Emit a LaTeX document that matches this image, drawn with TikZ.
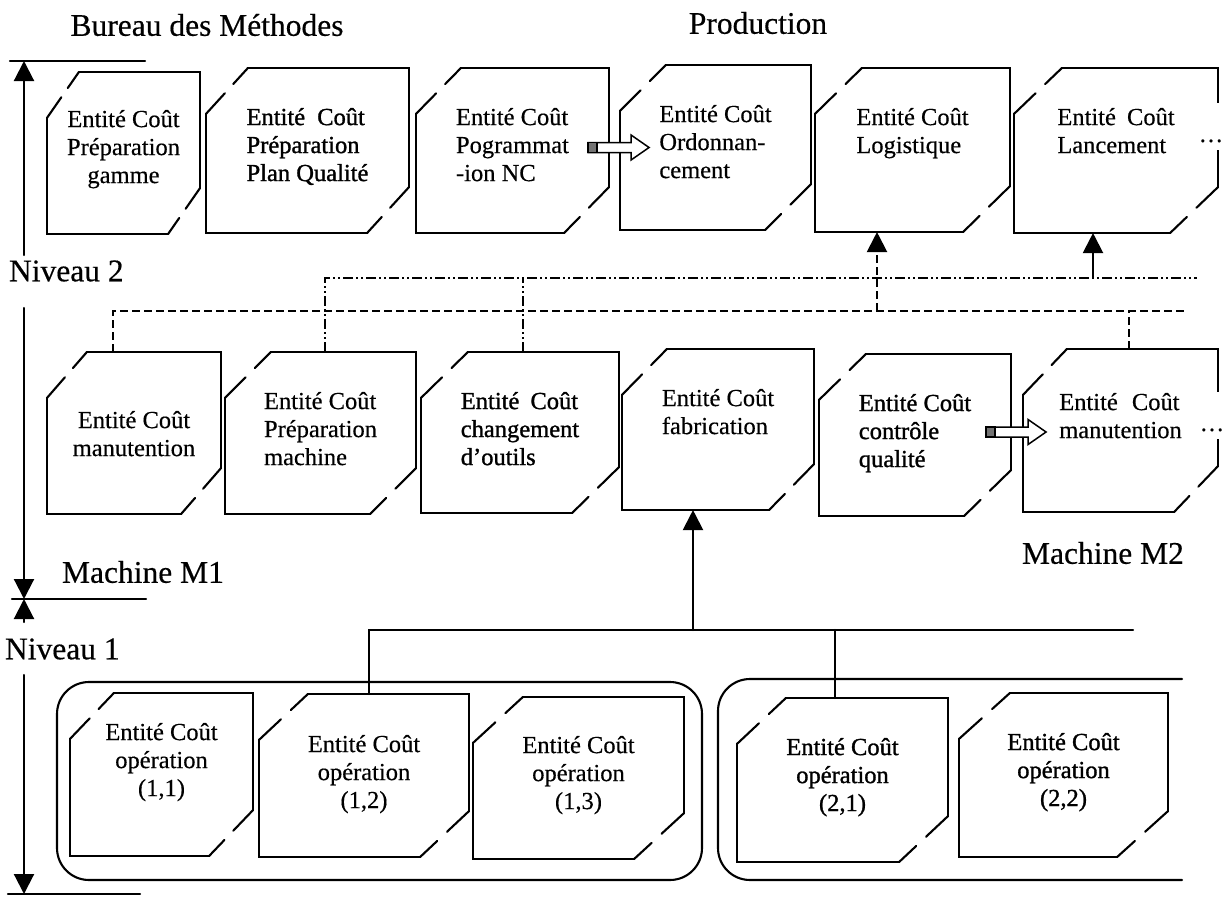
\documentclass[tikz,border=0pt]{standalone}
\usepackage{fontspec}
\setmainfont{Liberation Serif}[FakeBold=0.4]
\newfontfamily\inkfont{Liberation Serif}[FakeBold=1.2]
\usetikzlibrary{arrows.meta,calc,positioning}

\begin{document}
\begin{tikzpicture}[
  x=1pt, y=-1pt,
  line width=2.1pt, line cap=round,
  ecbox/.style={rectangle, draw=none, inner sep=0pt},
  ectext/.style={inner sep=0pt, align=left, font=\fontsize{24.5}{28}\selectfont},
  ecctr/.style={ectext, align=center},
  ink/.style={font=\inkfont\fontsize{24.5}{28}\selectfont},
  lbl/.style={inner sep=0pt, font=\fontsize{31.5}{36}\selectfont},
  arr/.style={-{Triangle[length=20pt,width=20pt]}},
  dsh/.style={line cap=butt, dash pattern=on 8pt off 4pt},
  ddot/.style={line cap=butt, dash pattern=on 10pt off 3pt on 2pt off 3pt on 2pt off 3pt},
  fat/.style={line width=1.5pt, fill=white, line join=miter},
  dotmask/.style={fill=white, inner sep=0pt, minimum width=24pt, text height=39pt,
    text depth=8pt, font=\fontsize{24.5}{28}\selectfont}
]
\useasboundingbox (0,0) rectangle (1229,897);

% Titles and levels
\node[lbl] (bdm) at (207,25) {Bureau des Méthodes};
\node[lbl] (prod) at (758,23) {Production};
\node[lbl, anchor=west] (niv2) at (8,271) {Niveau 2};
\node[lbl, anchor=west] (niv1) at (4,649) {Niveau 1};
\node[lbl, anchor=west] (mach1) at (61,572) {Machine M1};
\node[lbl, anchor=west] (mach2) at (1021,553) {Machine M2};

% Level 2 - top row
\node[ecbox, minimum width=151pt, minimum height=160pt] (b1) at (123.5,153) {};
\node[ecbox, minimum width=201pt, minimum height=163pt] (b2) at (307.5,150.5) {};
\node[ecbox, minimum width=191pt, minimum height=163pt] (b3) at (512.5,150.5) {};
\node[ecbox, minimum width=189pt, minimum height=163pt] (b4) at (715.5,147.5) {};
\node[ecbox, minimum width=193pt, minimum height=162pt] (b5) at (912.5,150) {};
\node[ecbox, minimum width=202pt, minimum height=163pt] (b6) at (1116,150.5) {};

\node[ecctr, below=37pt of b1.north] (b1t) {Entité Coût\\Préparation\\gamme};
\node[ectext, ink, below=39pt of b2.north] (b2t) {Entité\hspace{6pt} Coût\\Préparation\\Plan Qualité};
\node[ectext, below=39pt of b3.north] (b3t) {Entité Coût\\Pogrammat\\-ion NC};
\node[ectext, below=39pt of b4.north] (b4t) {Entité Coût\\Ordonnan-\\cement};
\node[ectext, below=39pt of b5.north] (b5t) {Entité Coût\\Logistique};
\node[ectext, below=39pt of b6.north] (b6t) {Entité\hspace{5pt} Coût\\Lancement};

% Machines - middle row
\node[ecbox, minimum width=172pt, minimum height=160pt] (m1) at (134,433) {};
\node[ecbox, minimum width=189pt, minimum height=160pt] (m2) at (320.5,433) {};
\node[ecbox, minimum width=196pt, minimum height=159pt] (m3) at (520,432.5) {};
\node[ecbox, minimum width=190pt, minimum height=159pt] (m4) at (718,429.5) {};
\node[ecbox, minimum width=190pt, minimum height=160pt] (m5) at (915,435) {};
\node[ecbox, minimum width=193pt, minimum height=161pt] (m6) at (1120.5,430.5) {};

\node[ecctr, below=58pt of m1.north] (m1t) {Entité Coût\\manutention};
\node[ectext, below=39pt of m2.north] (m2t) {Entité Coût\\Préparation\\machine};
\node[ectext, ink, below=39pt of m3.north] (m3t) {Entité\hspace{5pt} Coût\\changement\\d’outils};
\node[ectext, below=39pt of m4.north] (m4t) {Entité Coût\\fabrication};
\node[ectext, ink, below=39pt of m5.north] (m5t) {Entité Coût\\contrôle\\qualité};
\node[ectext, below=43pt of m6.north] (m6t) {Entité\hspace{8pt} Coût\\manutention};

% Level 1 - operations
\node[ecbox, minimum width=181pt, minimum height=161pt] (o11) at (161.5,774.5) {};
\node[ecbox, minimum width=208pt, minimum height=161pt] (o12) at (364,775.5) {};
\node[ecbox, minimum width=209pt, minimum height=160pt] (o13) at (578.5,778) {};
\node[ecbox, minimum width=209pt, minimum height=162pt] (o21) at (842.5,780) {};
\node[ecbox, minimum width=207pt, minimum height=162pt] (o22) at (1063.5,775) {};

\node[ecctr, below=29pt of o11.north] (o11t) {Entité Coût\\opération\\(1,1)};
\node[ecctr, below=40pt of o12.north] (o12t) {Entité Coût\\opération\\(1,2)};
\node[ecctr, below=38pt of o13.north] (o13t) {Entité Coût\\opération\\(1,3)};
\node[ecctr, ink, below=39pt of o21.north] (o21t) {Entité Coût\\opération\\(2,1)};
\node[ecctr, ink, below=39pt of o22.north] (o22t) {Entité Coût\\opération\\(2,2)};

% Chamfered outlines
\foreach \b/\c in {b1/32, b2/42, b3/45, b4/46, b5/47, b6/48, m1/40, m2/46, m3/47,
  m4/45, m5/47, m6/44, o11/44, o12/49, o13/50, o21/49, o22/51} {
  \coordinate (pA) at ([xshift=\c pt]\b.north west);
  \coordinate (pC) at ([yshift=46pt]\b.south east);
  \coordinate (pD) at ([xshift=-\c pt]\b.south east);
  \coordinate (pF) at ([yshift=-46pt]\b.north west);
  \draw (pA) -- (\b.north east) -- (pC);
  \draw (pF) -- (\b.south west) -- (pD);
  \draw (pF) -- ($(pF)!.45!(pA)$) ($(pF)!.65!(pA)$) -- (pA);
  \draw (pC) -- ($(pC)!.45!(pD)$) ($(pC)!.65!(pD)$) -- (pD);
}

% Continuation marks
\node[dotmask] (b6d) at (1211,126.5) {\dots};
\node[dotmask] (m6d) at (1212,415.5) {\dots};

% Hollow arrows
\coordinate (fa1) at ([xshift=-21pt,yshift=3pt]b3.east);
\draw[fat] (fa1) ++(0,-5) -- ++(43,0) -- ++(0,-7.5) -- ++(18,12.5) -- ++(-18,12.5)
  -- ++(0,-7.5) -- ++(-43,0) -- cycle;
\filldraw[fat, fill=black!55] (fa1) ++(0,-5) rectangle ++(9,10);
\coordinate (fa2) at ([xshift=-25pt,yshift=3pt]m5.east);
\draw[fat] (fa2) ++(0,-5) -- ++(42,0) -- ++(0,-7.5) -- ++(18,12.5) -- ++(-18,12.5)
  -- ++(0,-7.5) -- ++(-42,0) -- cycle;
\filldraw[fat, fill=black!55] (fa2) ++(0,-5) rectangle ++(9,10);

% Dash-dot bus
\coordinate (dd1) at (1197,278);
\coordinate (m2top) at ([xshift=4.5pt]m2.north);
\coordinate (m3top) at ([xshift=3pt]m3.north);
\coordinate (lanc) at ([xshift=-23pt]b6.south);
\draw[ddot] (m2top) |- (dd1);
\draw[ddot] (m3top) -- (m3top |- dd1);
\draw[arr] (lanc |- dd1) -- (lanc);

% Dashed bus
\coordinate (ds1) at (1188,311);
\coordinate (m1top) at ([xshift=-21pt]m1.north);
\coordinate (m6top) at ([xshift=8.5pt]m6.north);
\coordinate (logi) at ([xshift=-35.5pt]b5.south);
\draw[dsh] (m1top) |- (ds1);
\draw[dsh] (m6top) -- (m6top |- ds1);
\draw[dsh, arr] (logi |- ds1) -- (logi);

% Level 1 bus
\coordinate (bus1) at (1133,630);
\coordinate (o12top) at ([xshift=5pt]o12.north);
\coordinate (o21top) at ([xshift=-7.5pt]o21.north);
\coordinate (fab) at ([xshift=-25pt]m4.south);
\draw (o12top) |- (bus1);
\draw (o21top) -- (o21top |- bus1);
\draw[arr] (fab |- bus1) -- (fab);

% Machine groups
\draw[rounded corners=32pt] (57,682) rectangle (702,880);
\draw[rounded corners=32pt] (1182,679) -- (718,679) -- (718,880) -- (1182,880);

% Level scale
\coordinate (tk1) at (24,61);
\coordinate (tk2) at (24,599);
\coordinate (tk3) at (24,894);
\draw ([xshift=-14pt]tk1) -- ([xshift=121pt]tk1);
\draw ([xshift=-12pt]tk2) -- ([xshift=122pt]tk2);
\draw ([xshift=-16pt]tk3) -- ([xshift=116pt]tk3);
\coordinate (n2a) at (24,255);
\coordinate (n2b) at (24,308);
\coordinate (n1a) at (24,622);
\coordinate (n1b) at (24,675);
\draw[arr] (n2a) -- (tk1);
\draw[arr] (n2b) -- (tk2);
\draw[arr] (n1a) -- (tk2);
\draw[arr] (n1b) -- (tk3);

\end{tikzpicture}
\end{document}
